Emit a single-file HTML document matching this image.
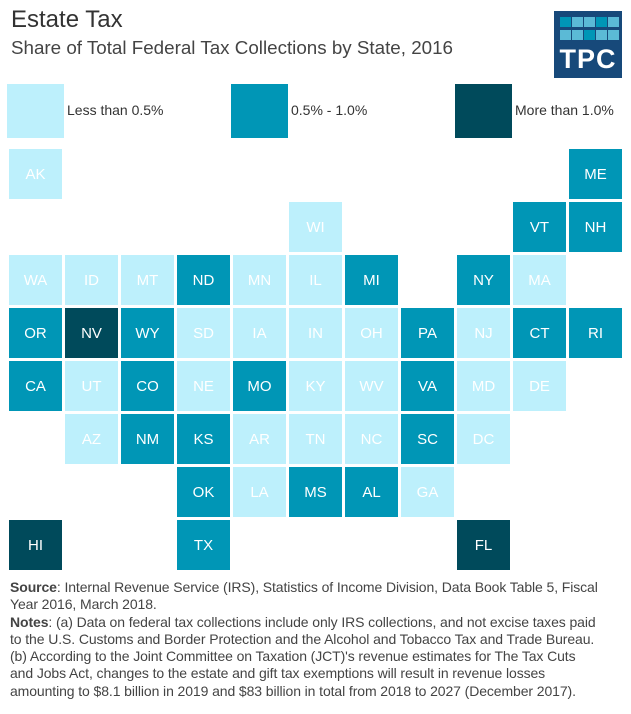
<!DOCTYPE html>
<html><head><meta charset="utf-8"><style>
body{margin:0;width:631px;height:714px;background:#fff;font-family:"Liberation Sans",sans-serif;position:relative;overflow:hidden;color:#3a3a3a}
.t{position:absolute;left:11px;top:6px;font-size:24px;color:#333}
.s{position:absolute;left:11px;top:37px;font-size:18.8px;color:#444}
.c{position:absolute;width:53px;height:50px;color:#fff;font-size:15px;display:flex;align-items:center;justify-content:center}
.L{background:#bdf0fc}.M{background:#0096b6}.D{background:#004a5b}
.lg{position:absolute;top:84px;width:57px;height:54px}
.lt{position:absolute;top:102px;font-size:14px;color:#333}
.f{position:absolute;left:10px;top:579px;font-size:14px;line-height:17.3px;color:#444;white-space:nowrap;letter-spacing:-0.1px}
.logo{position:absolute;left:554px;top:11px;width:68px;height:67px;background:#17497a}
.sq{position:absolute;width:11px;height:10px;background:#5bbad6}
</style></head><body>
<div class="t">Estate Tax</div>
<div class="s">Share of Total Federal Tax Collections by State, 2016</div>
<div class="logo">
<div class="sq" style="left:6px;top:6px;background:#0096b6"></div><div class="sq" style="left:18px;top:6px"></div><div class="sq" style="left:30px;top:6px"></div><div class="sq" style="left:42px;top:6px;background:#0096b6"></div><div class="sq" style="left:54px;top:6px"></div>
<div class="sq" style="left:6px;top:19px"></div><div class="sq" style="left:18px;top:19px"></div><div class="sq" style="left:30px;top:19px;background:#0096b6"></div><div class="sq" style="left:42px;top:19px"></div><div class="sq" style="left:54px;top:19px"></div>
<div style="position:absolute;left:0;width:68px;top:33px;text-align:center;color:#fff;font-weight:bold;font-size:27px;letter-spacing:1px">TPC</div>
</div>
<div class="lg L" style="left:7px"></div><div class="lt" style="left:67px">Less than 0.5%</div>
<div class="lg M" style="left:231px"></div><div class="lt" style="left:291px">0.5% - 1.0%</div>
<div class="lg D" style="left:455px"></div><div class="lt" style="left:515px">More than 1.0%</div>
<div class="f"><b>Source</b>: Internal Revenue Service (IRS), Statistics of Income Division, Data Book Table 5, Fiscal<br>Year 2016, March 2018.<br><b>Notes</b>: (a) Data on federal tax collections include only IRS collections, and not excise taxes paid<br>to the U.S. Customs and Border Protection and the Alcohol and Tobacco Tax and Trade Bureau.<br>(b) According to the Joint Committee on Taxation (JCT)'s revenue estimates for The Tax Cuts<br>and Jobs Act, changes to the estate and gift tax exemptions will result in revenue losses<br>amounting to $8.1 billion in 2019 and $83 billion in total from 2018 to 2027 (December 2017).</div>
<div class="c L" style="left:9px;top:149px">AK</div>
<div class="c M" style="left:569px;top:149px">ME</div>
<div class="c L" style="left:289px;top:202px">WI</div>
<div class="c M" style="left:513px;top:202px">VT</div>
<div class="c M" style="left:569px;top:202px">NH</div>
<div class="c L" style="left:9px;top:255px">WA</div>
<div class="c L" style="left:65px;top:255px">ID</div>
<div class="c L" style="left:121px;top:255px">MT</div>
<div class="c M" style="left:177px;top:255px">ND</div>
<div class="c L" style="left:233px;top:255px">MN</div>
<div class="c L" style="left:289px;top:255px">IL</div>
<div class="c M" style="left:345px;top:255px">MI</div>
<div class="c M" style="left:457px;top:255px">NY</div>
<div class="c L" style="left:513px;top:255px">MA</div>
<div class="c M" style="left:9px;top:308px">OR</div>
<div class="c D" style="left:65px;top:308px">NV</div>
<div class="c M" style="left:121px;top:308px">WY</div>
<div class="c L" style="left:177px;top:308px">SD</div>
<div class="c L" style="left:233px;top:308px">IA</div>
<div class="c L" style="left:289px;top:308px">IN</div>
<div class="c L" style="left:345px;top:308px">OH</div>
<div class="c M" style="left:401px;top:308px">PA</div>
<div class="c L" style="left:457px;top:308px">NJ</div>
<div class="c M" style="left:513px;top:308px">CT</div>
<div class="c M" style="left:569px;top:308px">RI</div>
<div class="c M" style="left:9px;top:361px">CA</div>
<div class="c L" style="left:65px;top:361px">UT</div>
<div class="c M" style="left:121px;top:361px">CO</div>
<div class="c L" style="left:177px;top:361px">NE</div>
<div class="c M" style="left:233px;top:361px">MO</div>
<div class="c L" style="left:289px;top:361px">KY</div>
<div class="c L" style="left:345px;top:361px">WV</div>
<div class="c M" style="left:401px;top:361px">VA</div>
<div class="c L" style="left:457px;top:361px">MD</div>
<div class="c L" style="left:513px;top:361px">DE</div>
<div class="c L" style="left:65px;top:414px">AZ</div>
<div class="c M" style="left:121px;top:414px">NM</div>
<div class="c M" style="left:177px;top:414px">KS</div>
<div class="c L" style="left:233px;top:414px">AR</div>
<div class="c L" style="left:289px;top:414px">TN</div>
<div class="c L" style="left:345px;top:414px">NC</div>
<div class="c M" style="left:401px;top:414px">SC</div>
<div class="c L" style="left:457px;top:414px">DC</div>
<div class="c M" style="left:177px;top:467px">OK</div>
<div class="c L" style="left:233px;top:467px">LA</div>
<div class="c M" style="left:289px;top:467px">MS</div>
<div class="c M" style="left:345px;top:467px">AL</div>
<div class="c L" style="left:401px;top:467px">GA</div>
<div class="c D" style="left:9px;top:520px">HI</div>
<div class="c M" style="left:177px;top:520px">TX</div>
<div class="c D" style="left:457px;top:520px">FL</div>
</body></html>
